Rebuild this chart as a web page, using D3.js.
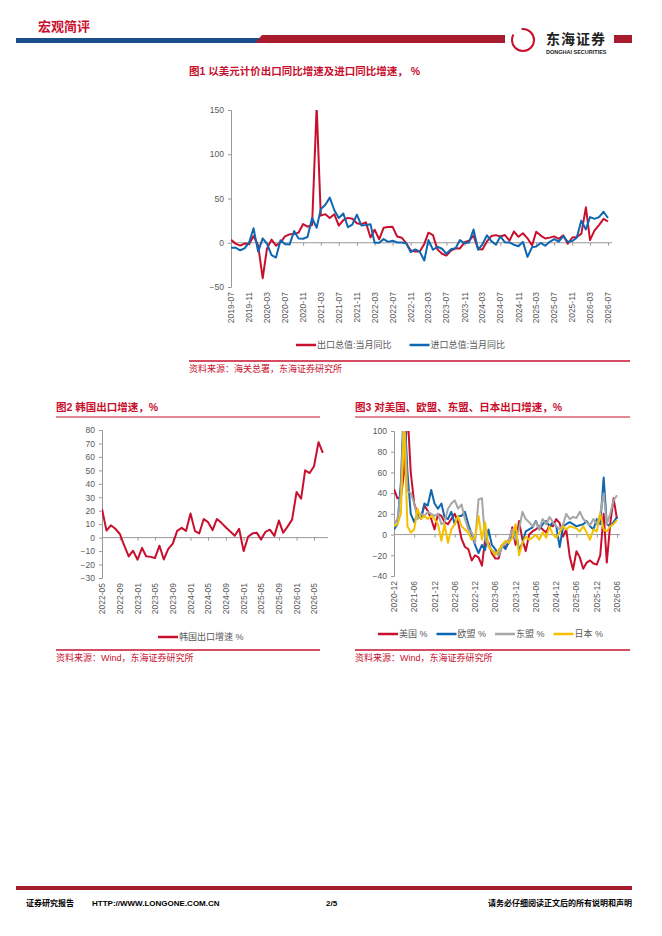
<!DOCTYPE html>
<html><head><meta charset="utf-8">
<script src="https://cdn.jsdelivr.net/npm/d3@7"></script>
<style>body{margin:0;background:#fff}svg{font-family:"Liberation Sans","Noto Sans CJK SC",sans-serif}</style>
</head><body><svg id="c" width="662" height="936"></svg>
<script>
// ===== DATA =====
const exportYoY = [3.3,-1,-3.2,-0.9,-1.3,7.6,
 -3,-40,-6.6,3.5,-3.3,0.5,7.2,9.5,9.9,11.4,21.1,18.1,
 20,154,30.6,32.3,27.9,32.2,19.3,25.6,28.1,27.1,22,20.9,
 23,6,14.7,3.9,16.9,17.9,18,7.1,5.7,-0.3,-8.7,-9.9,
 -10,-1.3,11.4,8.5,-7.5,-12.4,-14.5,-8.8,-6.2,-6.4,0.5,2.3,
 8,-7,-7.5,1.5,7.6,8.6,7,8.7,2.4,12.7,6.7,10.7,
 5,-3,12.4,8.1,4.8,5.8,7.2,4.4,8.3,-1.1,5.9,6.6,
 10,40,3,14,20,27,24];
const importYoY = [-5.6,-5.6,-8.5,-6.4,0.3,16.3,
 -10,5,-1,-14,-16.7,2.7,-1.4,-2.1,13.2,4.7,4.5,6.5,
 28,17,38,43,51,36.7,28,33,17.6,20.6,31.7,19.5,
 20,21,-0.1,0,4.1,1,2.3,0.3,0.3,-0.7,-10.6,-7.5,
 -10,-20,3,-7.9,-4.5,-6.8,-12.4,-7.3,-6.2,3,-0.6,0.2,
 15,-8,-1.9,8.4,1.8,-2.3,7.2,0.5,0.3,-2.3,-3.9,1,
 -16,-5,-4.3,-0.2,-3.4,1.1,4.1,1.3,7.4,1,1.9,5.7,
 25,15,29,27,29,35,28];
const chart1Ticks = ["2019-07","2019-11","2020-03","2020-07","2020-11","2021-03","2021-07","2021-11","2022-03","2022-07","2022-11","2023-03","2023-07","2023-11","2024-03","2024-07","2024-11","2025-03","2025-07","2025-11","2026-03","2026-07"];

const koreaYoY = [21.3,5.2,9.2,6.6,2.7,-5.8,-14,-9.7,
 -16.4,-7.6,-13.8,-14.3,-15.2,-6,-16.2,-8.3,-4.5,5,7.3,5,
 18,4.8,3.1,13.8,11.5,5.6,13.9,11,7.5,4.6,1.4,6.6,
 -10,0.7,3,3.7,-1.3,4.3,5.9,1.3,12.7,3.6,8.4,13.4,
 33.9,29,50,48,53,71,63];
const chart2Ticks = ["2022-05","2022-09","2023-01","2023-05","2023-09","2024-01","2024-05","2024-09","2025-01","2025-05","2025-09","2026-01","2026-05"];

const usYoY = [44,35,36,60,120,60,30,20,17,28,23,15,5,
 20,18,12,10,15,20,12,-4,-12,-14,-25,-20,
 -22,-30,-5,-8,-18,-23,-23,-10,-12,-8,7,-10,
 13,-5,-16,0,3,5,8,5,2,9,8,15,
 11,-2,5,-21,-34,-16,-22,-33,-27,-25,-28,-29,
 -20,20,-27,10,35,15];
const euYoY = [5,10,50,130,60,20,12,20,15,30,28,43,30,
 25,30,17,15,22,10,18,18,22,10,0,-10,
 -18,-10,-15,5,-10,-14,-20,-10,-14,-6,-2,5,
 -15,-8,3,5,7,13,5,10,13,8,12,8,
 -12,8,10,12,10,8,9,10,13,8,5,15,
 10,55,10,8,12,17];
const aseanYoY = [10,15,40,120,42,40,30,15,20,18,22,20,18,
 20,10,12,25,30,33,25,29,15,5,2,-8,
 34,35,-5,-10,-15,-17,-20,-12,-8,-5,5,-5,
 5,22,15,12,8,12,5,15,10,17,12,8,
 5,10,20,15,17,16,22,15,12,9,15,10,
 20,40,10,20,33,38];
const japanYoY = [8,10,20,110,8,2,5,25,15,18,15,18,15,
 10,-6,10,-8,5,10,18,8,5,2,-5,-3,
 18,-5,12,-12,-15,-20,-15,-10,-6,-8,-3,10,
 -20,-8,-2,-5,-3,0,-5,2,-3,8,0,-3,
 2,8,5,8,7,6,3,8,2,-5,5,3,
 20,5,3,8,10,14];
const chart3Ticks = ["2020-12","2021-06","2021-12","2022-06","2022-12","2023-06","2023-12","2024-06","2024-12","2025-06","2025-12","2026-06"];

const RED = "#c8102e", BLUE = "#0f67b1", GRAY = "#a6a6a6", GOLD = "#f5c000", DARKRED = "#a61c2c";
const svg = d3.select("#c");

function months(start, n) {
    const [y, m] = start.split("-").map(Number);
    return d3.range(n).map(i => new Date(y, m - 1 + i, 1));
}
const parse = d3.timeParse("%Y-%m");

// ===== HEADER / FOOTER =====
svg.append("text").attr("x", 38).attr("y", 31).attr("fill", RED).attr("font-size", 13).attr("font-weight", "bold").text("宏观简评");
svg.append("rect").attr("x", 16).attr("y", 38).attr("width", 245).attr("height", 5).attr("fill", "#1b4f8c");
svg.append("path").attr("d", "M255,43 L262,35 L505,35 L505,43 Z").attr("fill", DARKRED);
svg.append("rect").attr("x", 614).attr("y", 35).attr("width", 18).attr("height", 8).attr("fill", DARKRED);
svg.append("circle").attr("cx", 523).attr("cy", 40).attr("r", 11).attr("fill", "none").attr("stroke", RED).attr("stroke-width", 2).attr("stroke-dasharray", "40,10");
svg.append("text").attr("x", 546).attr("y", 44).attr("font-size", 14).attr("font-weight", "bold").attr("fill", "#222").attr("letter-spacing", 1).text("东海证券");
svg.append("text").attr("x", 546).attr("y", 54).attr("font-size", 5.5).attr("font-weight", "bold").attr("fill", "#222").text("DONGHAI SECURITIES");

svg.append("rect").attr("x", 16).attr("y", 886).attr("width", 616).attr("height", 4).attr("fill", DARKRED);
svg.append("text").attr("x", 26).attr("y", 906).attr("font-size", 8).attr("font-weight", "bold").text("证券研究报告");
svg.append("text").attr("x", 92).attr("y", 906).attr("font-size", 8).attr("font-weight", "bold").text("HTTP://WWW.LONGONE.COM.CN");
svg.append("text").attr("x", 326).attr("y", 906).attr("font-size", 8).attr("font-weight", "bold").text("2/5");
svg.append("text").attr("x", 632).attr("y", 906).attr("font-size", 8).attr("font-weight", "bold").attr("text-anchor", "end").text("请务必仔细阅读正文后的所有说明和声明");

// ===== GENERIC CHART =====
function drawChart(o) {
    const g = svg.append("g");
    const x = d3.scaleTime().domain(o.xDomain).range([o.x0, o.x1]);
    const y = d3.scaleLinear().domain(o.yDomain).range([o.y1, o.y0]);
    const yAxis = g.append("g").attr("transform", `translate(${o.x0},0)`)
        .call(d3.axisLeft(y).tickValues(o.yTicks).tickSize(3).tickPadding(4));
    yAxis.select(".domain").attr("stroke", "#999");
    yAxis.selectAll(".tick line").attr("stroke", "#999");
    yAxis.selectAll("text").attr("fill", "#595959").attr("font-size", 8.5).attr("font-family", "Liberation Sans");
    const xAxis = g.append("g").attr("transform", `translate(0,${y(0)})`)
        .call(d3.axisBottom(x).tickValues(o.xTicks.map(parse)).tickSize(3).tickFormat(""));
    xAxis.select(".domain").attr("stroke", "#999").attr("d", `M${o.x0},0H${o.xEnd}`);
    xAxis.selectAll(".tick line").attr("stroke", "#999");
    g.selectAll(".xl").data(o.xTicks).enter().append("text")
        .attr("transform", d => `translate(${x(parse(d)) + 3},${o.y1 + 5}) rotate(-90)`)
        .attr("text-anchor", "end").attr("font-size", 8.5).attr("fill", "#595959").text(d => d);
    const clipId = "clip" + o.x0;
    g.append("clipPath").attr("id", clipId).append("rect")
        .attr("x", o.x0).attr("y", o.y0).attr("width", o.xEnd - o.x0 + 10).attr("height", o.y1 - o.y0);
    o.series.forEach(s => {
        const dates = months(o.start, s.values.length);
        g.append("path").datum(s.values).attr("clip-path", `url(#${clipId})`)
            .attr("fill", "none").attr("stroke", s.color).attr("stroke-width", 2).attr("stroke-linejoin", "round")
            .attr("d", d3.line().x((d, i) => x(dates[i])).y(d => y(d)));
    });
    // legend
    let lx = o.legendX;
    o.series.forEach(s => {
        g.append("line").attr("x1", lx).attr("x2", lx + 20).attr("y1", o.legendY - 3).attr("y2", o.legendY - 3).attr("stroke", s.color).attr("stroke-width", 2.5);
        const t = g.append("text").attr("x", lx + 21).attr("y", o.legendY).attr("font-size", 9).attr("fill", "#595959").text(s.name);
        lx += 21 + t.node().getComputedTextLength() + o.legendGap;
    });
}

function titleBlock(x, y, x2, title, lineY) {
    svg.append("text").attr("x", x).attr("y", y).attr("fill", RED).attr("font-size", 10.5).attr("font-weight", "bold").text(title);
    if (lineY) svg.append("line").attr("x1", x).attr("x2", x2).attr("y1", lineY).attr("y2", lineY).attr("stroke", RED).attr("stroke-width", 1);
}
function source(x, y, x2, text) {
    svg.append("line").attr("x1", x).attr("x2", x2).attr("y1", y - 11).attr("y2", y - 11).attr("stroke", RED).attr("stroke-width", 1.5);
    svg.append("text").attr("x", x).attr("y", y).attr("fill", RED).attr("font-size", 9).text(text);
}

// Chart 1
titleBlock(189, 75, 0, "图1  以美元计价出口同比增速及进口同比增速，  %");
drawChart({
    x0: 231, x1: 608, xEnd: 612, y0: 110, y1: 287,
    xDomain: [parse("2019-07"), parse("2026-07")], yDomain: [-50, 150], yTicks: [-50, 0, 50, 100, 150],
    xTicks: chart1Ticks, start: "2019-07", legendX: 296, legendY: 348, legendGap: 18,
    series: [{name: "出口总值:当月同比", values: exportYoY, color: RED}, {name: "进口总值:当月同比", values: importYoY, color: BLUE}]
});
source(189, 372, 630, "资料来源：海关总署，东海证券研究所");

// Chart 2
titleBlock(56, 411, 320, "图2  韩国出口增速，%", 417);
drawChart({
    x0: 102, x1: 314, xEnd: 328, y0: 430, y1: 578,
    xDomain: [parse("2022-05"), parse("2026-05")], yDomain: [-30, 80], yTicks: d3.range(-30, 81, 10),
    xTicks: chart2Ticks, start: "2022-05", legendX: 158, legendY: 640, legendGap: 10,
    series: [{name: "韩国出口增速 %", values: koreaYoY, color: RED}]
});
source(56, 661, 320, "资料来源：Wind，东海证券研究所");

// Chart 3
titleBlock(355, 411, 630, "图3  对美国、欧盟、东盟、日本出口增速，%", 417);
drawChart({
    x0: 394, x1: 617, xEnd: 620, y0: 431, y1: 576,
    xDomain: [parse("2020-12"), parse("2026-06")], yDomain: [-40, 100], yTicks: d3.range(-40, 101, 20),
    xTicks: chart3Ticks, start: "2020-12", legendX: 378, legendY: 637, legendGap: 9,
    series: [{name: "美国 %", values: usYoY, color: RED}, {name: "欧盟 %", values: euYoY, color: BLUE},
             {name: "东盟 %", values: aseanYoY, color: GRAY}, {name: "日本 %", values: japanYoY, color: GOLD}]
});
source(355, 661, 630, "资料来源：Wind，东海证券研究所");
</script></body></html>
